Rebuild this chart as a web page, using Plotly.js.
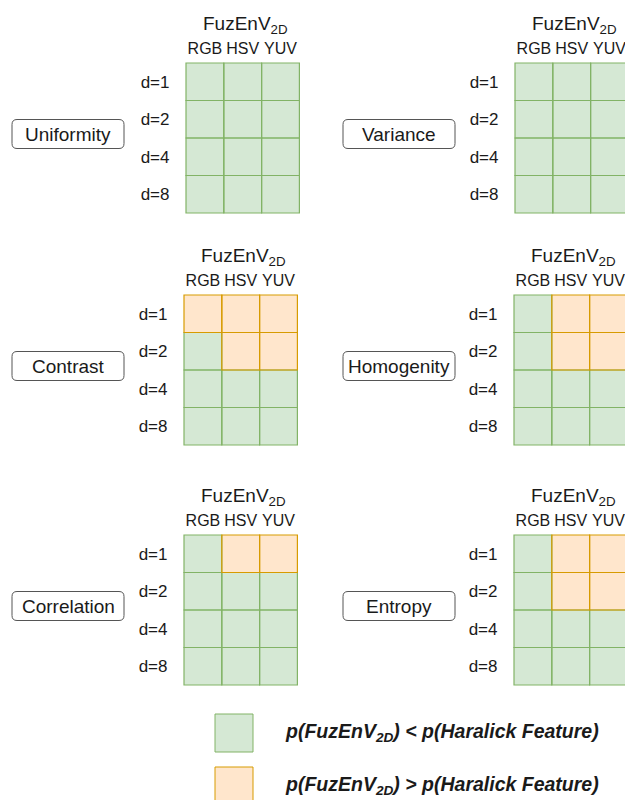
<!DOCTYPE html>
<html>
<head>
<meta charset="utf-8">
<script src="https://cdn.plot.ly/plotly-3.0.1.min.js"></script>
<style>
html,body{margin:0;padding:0;background:#fff;}
#chart{width:625px;height:800px;}
</style>
</head>
<body>
<div id="chart"></div>
<script>
// ---- data ----
const colorSpaces = ['RGB', 'HSV', 'YUV'];
const distances = ['d=1', 'd=2', 'd=4', 'd=8'];
const features = ['Uniformity', 'Variance', 'Contrast', 'Homogenity', 'Correlation', 'Entropy'];
// 0: p(FuzEnV2D) < p(Haralick Feature), 1: p(FuzEnV2D) > p(Haralick Feature)
const uniformity  = [[0,0,0],[0,0,0],[0,0,0],[0,0,0]];
const variance    = [[0,0,0],[0,0,0],[0,0,0],[0,0,0]];
const contrast    = [[1,1,1],[0,1,1],[0,0,0],[0,0,0]];
const homogenity  = [[0,1,1],[0,1,1],[0,0,0],[0,0,0]];
const correlation = [[0,1,1],[0,0,0],[0,0,0],[0,0,0]];
const entropy     = [[0,1,1],[0,1,1],[0,0,0],[0,0,0]];
const legendLabels = [
  '<b><i>p(FuzEnV<sub>2D</sub>) &lt; p(Haralick Feature)</i></b>',
  '<b><i>p(FuzEnV<sub>2D</sub>) &gt; p(Haralick Feature)</i></b>'
];
const gridTitle = 'FuzEnV<sub>2D</sub>';

// ---- layout geometry ----
const W = 625, H = 800;
const values = [uniformity, variance, contrast, homogenity, correlation, entropy];
const pos = [
  {left: 186, top: 63}, {left: 515, top: 63},
  {left: 184, top: 295}, {left: 514, top: 295},
  {left: 184, top: 535}, {left: 514, top: 535}
];
const boxes = [
  {x0: 12, x1: 124}, {x0: 343, x1: 455}
];
const CW = 37.8, CH = 37.5, PAD = 1.5;
const GREEN = '#d5e8d4', GREEN_L = '#82b366', ORANGE = '#ffe6cc', ORANGE_L = '#d79b00';
const FONT = 'Liberation Sans, Arial, sans-serif';
const TXT = '#1a1a1a';

const traces = [];
const layout = {
  width: W, height: H,
  margin: {l: 0, r: 0, t: 0, b: 0},
  paper_bgcolor: '#fff', plot_bgcolor: '#fff',
  showlegend: false,
  font: {family: FONT, color: TXT},
  shapes: [], annotations: []
};

function px(x) { return x / W; }
function py(y) { return 1 - y / H; }

function roundRect(x0, y0, x1, y1, r) {
  const rx = r / W, ry = r / H;
  const X0 = px(x0), X1 = px(x1), T = py(y0), B = py(y1);
  return `M ${X0+rx},${T} L ${X1-rx},${T} Q ${X1},${T} ${X1},${T-ry} L ${X1},${B+ry} Q ${X1},${B} ${X1-rx},${B} L ${X0+rx},${B} Q ${X0},${B} ${X0},${B+ry} L ${X0},${T-ry} Q ${X0},${T} ${X0+rx},${T} Z`;
}

features.forEach((feat, k) => {
  const n = k + 1;
  const xa = 'xaxis' + (n === 1 ? '' : n), ya = 'yaxis' + (n === 1 ? '' : n);
  const xr = 'x' + (n === 1 ? '' : n), yr = 'y' + (n === 1 ? '' : n);
  const p = pos[k];
  const rightPx = Math.min(W, p.left + 3 * CW + PAD);
  const leftPx = p.left - PAD;
  const botPx = p.top + 4 * CH + PAD, topPx = p.top - PAD;

  traces.push({
    type: 'heatmap',
    x: colorSpaces, y: distances, z: values[k],
    xaxis: xr, yaxis: yr,
    zmin: 0, zmax: 1, showscale: false,
    colorscale: [[0, GREEN], [0.5, GREEN], [0.5, ORANGE], [1, ORANGE]],
    hoverinfo: 'skip'
  });

  layout[xa] = {
    domain: [px(leftPx), px(rightPx)],
    range: [-0.5 - PAD / CW, -0.5 + (rightPx - p.left) / CW],
    type: 'category', categoryarray: colorSpaces,
    side: 'top', anchor: yr,
    showgrid: false, zeroline: false, showline: false, ticks: '',
    tickfont: {size: 16, family: FONT, color: TXT},
    ticklabelstandoff: 3, fixedrange: true
  };
  layout[ya] = {
    domain: [py(botPx), py(topPx)],
    range: [3.5 + PAD / CH, -0.5 - PAD / CH],
    type: 'category', categoryarray: distances,
    anchor: xr,
    showgrid: false, zeroline: false, showline: false, ticks: '',
    tickfont: {size: 17, family: FONT, color: TXT},
    ticklabelstandoff: 14, fixedrange: true
  };

  // cell borders: green first, orange on top
  [0, 1].forEach(v => {
    values[k].forEach((row, j) => {
      row.forEach((val, i) => {
        if (val !== v) return;
        layout.shapes.push({
          type: 'rect', xref: xr, yref: yr,
          x0: i - 0.5, x1: i + 0.5, y0: j - 0.5, y1: j + 0.5,
          line: {color: v ? ORANGE_L : GREEN_L, width: 1.2},
          fillcolor: 'rgba(0,0,0,0)', layer: 'above'
        });
      });
    });
  });

  // title over each grid
  const cx = p.left + 1.5 * CW + 3;
  layout.annotations.push({
    xref: 'paper', yref: 'paper', x: px(cx), y: py(p.top - 38),
    xanchor: 'center', yanchor: 'middle', showarrow: false,
    text: gridTitle, font: {size: 19, family: FONT, color: TXT}
  });

  // feature label box
  const b = boxes[k % 2];
  const cy = p.top + 2 * CH - 4;
  layout.shapes.push({
    type: 'path', xref: 'paper', yref: 'paper',
    path: roundRect(b.x0, cy - 14.5, b.x1, cy + 14.5, 5),
    line: {color: '#555', width: 1}, fillcolor: '#fff'
  });
  layout.annotations.push({
    xref: 'paper', yref: 'paper', x: px((b.x0 + b.x1) / 2), y: py(cy),
    xanchor: 'center', yanchor: 'middle', showarrow: false,
    text: feat, font: {size: 19, family: FONT, color: TXT}
  });
});

// legend
const legendColors = [[GREEN, GREEN_L], [ORANGE, ORANGE_L]];
const legendTops = [714, 767];
legendLabels.forEach((lab, i) => {
  const t = legendTops[i];
  layout.shapes.push({
    type: 'rect', xref: 'paper', yref: 'paper',
    x0: px(215), x1: px(253), y0: py(t + 38), y1: py(t),
    fillcolor: legendColors[i][0], line: {color: legendColors[i][1], width: 1}
  });
  layout.annotations.push({
    xref: 'paper', yref: 'paper', x: px(283), y: py(t + 18),
    xanchor: 'left', yanchor: 'middle', showarrow: false,
    text: lab, font: {size: 19.5, family: FONT, color: TXT}
  });
});

Plotly.newPlot('chart', traces, layout, {displayModeBar: false, staticPlot: true});
</script>
</body>
</html>
